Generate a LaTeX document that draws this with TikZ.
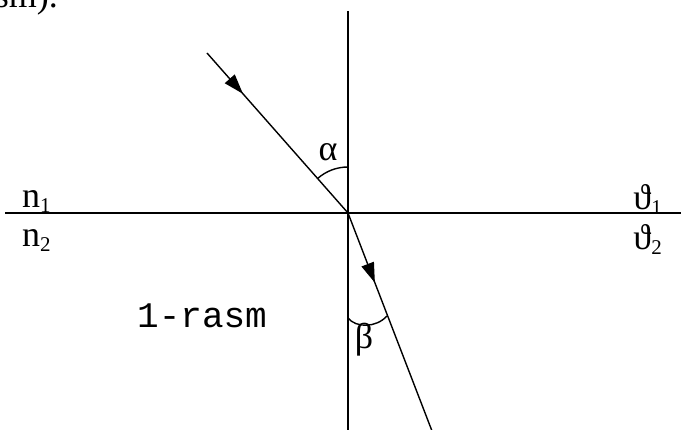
\documentclass[tikz,border=0pt]{standalone}
\usepackage{fontspec}
\setmainfont{Liberation Serif}
\newfontfamily\monofont{Liberation Mono}
\usetikzlibrary{arrows.meta,decorations.markings}
\newcommand\mysub[1]{\raisebox{-0.12em}{\fontsize{21}{21}\selectfont #1}}
\tikzset{
  axis/.style={line width=1.6pt},
  ray/.style={line width=1.4pt},
  anglearc/.style={line width=1.4pt},
  lbl/.style={inner sep=0pt, font=\fontsize{36}{36}\selectfont},
  rayarrow/.style={decoration={markings, mark=at position #1 with {\arrow{Triangle[length=20pt,width=13pt]}}}, postaction=decorate}
}
\begin{document}
\begin{tikzpicture}[x=1pt,y=-1pt]
\useasboundingbox (0,0) rectangle (683,430);
% clipped text at top
\node[lbl, anchor=base east] (top) at (58,8) {rasm).};
\coordinate (O) at (348,213);
\coordinate (hl) at (5,213);
\coordinate (hr) at (681,213);
\coordinate (vt) at (348,11);
\coordinate (vb) at (348,431);
\coordinate (inA) at (207,53);
\coordinate (outB) at (432,431);
\draw[axis] (hl) -- (hr);
\draw[axis] (vt) -- (vb);
\draw[ray, rayarrow=0.255] (inA) -- (O);
\draw[ray, rayarrow=0.32] (O) -- (outB);
% alpha arc
\draw[anglearc] ([shift={(228.6:46)}]O) arc[start angle=228.6, end angle=270, radius=46];
% beta arc
\coordinate (b1) at (348,318);
\coordinate (b2) at (387,316);
\draw[anglearc] (b1) .. controls (356,328) and (376,328) .. (b2);
\node[lbl] (alpha) at (328,152) {α};
\node[lbl] (beta) at (364,340) {β};
\node[lbl, anchor=base west] (n1) at (22,208) {n\mysub{1}};
\node[lbl, anchor=base west] (n2) at (22,247) {n\mysub{2}};
\node[lbl, anchor=base east] (t1) at (662,210) {ϑ\mysub{1}};
\node[lbl, anchor=base east] (t2) at (662,250) {ϑ\mysub{2}};
\node[inner sep=0pt, anchor=base west, font=\monofont\fontsize{36}{36}\selectfont] (rasm) at (137,328) {1-rasm};
\end{tikzpicture}
\end{document}
